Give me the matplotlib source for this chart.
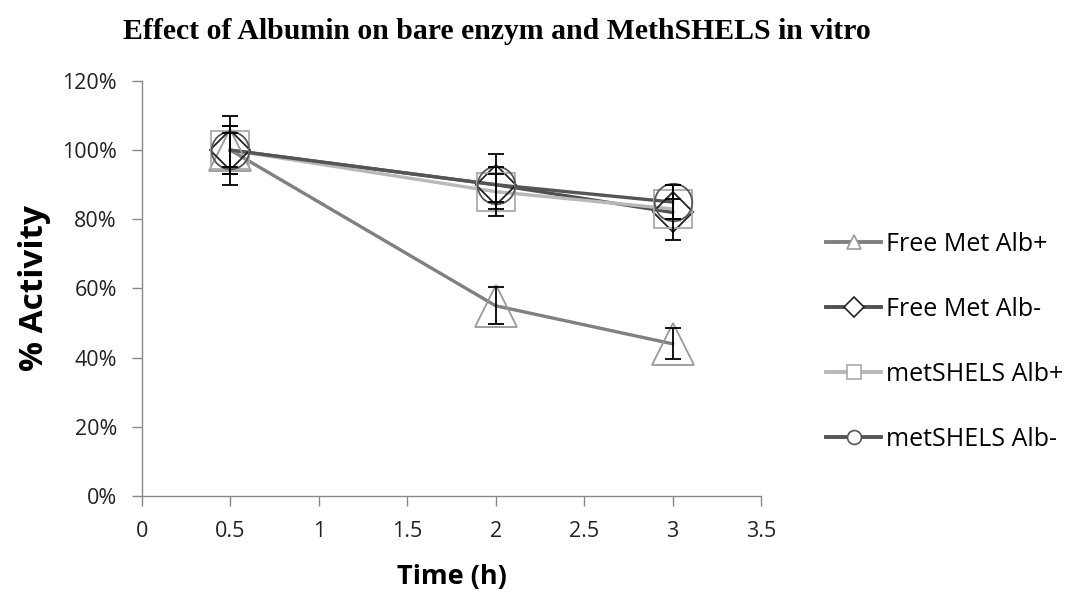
import matplotlib.pyplot as plt
from matplotlib.lines import Line2D
from matplotlib.ticker import PercentFormatter

# data
time_h = [0.5, 2, 3]
series_names = ["Free Met Alb+", "Free Met Alb-", "metSHELS Alb+", "metSHELS Alb-"]
free_alb_plus = [100, 55, 44]
free_alb_minus = [100, 90, 82]
shels_alb_plus = [100, 88, 83]
shels_alb_minus = [100, 90, 85]
err_free_plus = [5, 5.4, 4.5]
err_free_minus = [10, 5, 8]
err_shels_plus = [7, 5, 3]
err_shels_minus = [7, 9, 5]

values = [free_alb_plus, free_alb_minus, shels_alb_plus, shels_alb_minus]
errors = [err_free_plus, err_free_minus, err_shels_plus, err_shels_minus]
line_colors = ["#808080", "#505050", "#b8b8b8", "#555555"]
marker_edges = ["#999999", "#222222", "#aaaaaa", "#555555"]
markers = ["^", "D", "s", "o"]
marker_sizes = [30, 20, 27, 27]

fig = plt.figure(figsize=(10.82, 5.92), dpi=100)
ax = fig.add_axes([0.1312, 0.1622, 0.5721, 0.701])

for vals, errs, lc, me, mk, ms in zip(values, errors, line_colors, marker_edges,
                                      markers, marker_sizes):
    ax.plot(time_h, vals, color=lc, lw=2.4, zorder=2)
    ax.plot(time_h, vals, ls="none", marker=mk, ms=ms, mfc="none", mec=me, mew=1.3, zorder=3)
    ax.errorbar(time_h, vals, yerr=errs, fmt="none", ecolor="black", elinewidth=1.3,
                capsize=6, capthick=1.3, zorder=4)

ax.set_xlim(0, 3.5)
ax.set_ylim(0, 120)
ax.set_xticks([0, 0.5, 1, 1.5, 2, 2.5, 3, 3.5])
ax.set_xticklabels(["0", "0.5", "1", "1.5", "2", "2.5", "3", "3.5"])
ax.set_yticks(range(0, 121, 20))
ax.yaxis.set_major_formatter(PercentFormatter(decimals=0))

for s in ["top", "right"]:
    ax.spines[s].set_visible(False)
for s in ["left", "bottom"]:
    ax.spines[s].set_color("#888888")
    ax.spines[s].set_linewidth(1)
ax.tick_params(colors="#888888", length=7, width=1, labelcolor="#222222", labelsize=15.5)
ax.tick_params(axis="x", pad=11)
ax.tick_params(axis="y", pad=11)
for lab in ax.get_xticklabels() + ax.get_yticklabels():
    lab.set_family("Open Sans")

ax.set_xlabel("Time (h)", family="Open Sans", fontsize=19.5, fontweight="bold", labelpad=16)
ax.set_ylabel("% Activity", family="Open Sans", fontsize=24, fontweight="bold", labelpad=8)

fig.text(0.459, 0.946, "Effect of Albumin on bare enzym and MethSHELS in vitro",
         family="Liberation Serif", fontsize=21.4, fontweight="bold", ha="center", va="center")

handles = []
for lc, me, mk, name in zip(line_colors, marker_edges, markers, series_names):
    handles.append(Line2D([], [], color=lc, lw=2.8, marker=mk, ms=10, mfc="white",
                          mec=me, mew=1.2, label=name))
leg = fig.legend(handles=handles, loc="center left", bbox_to_anchor=(0.743, 0.423),
                 frameon=False, handlelength=2.2, handletextpad=0.2, labelspacing=1.6,
                 prop={"family": "Open Sans", "size": 18})

fig.savefig("out.png", dpi=100)
